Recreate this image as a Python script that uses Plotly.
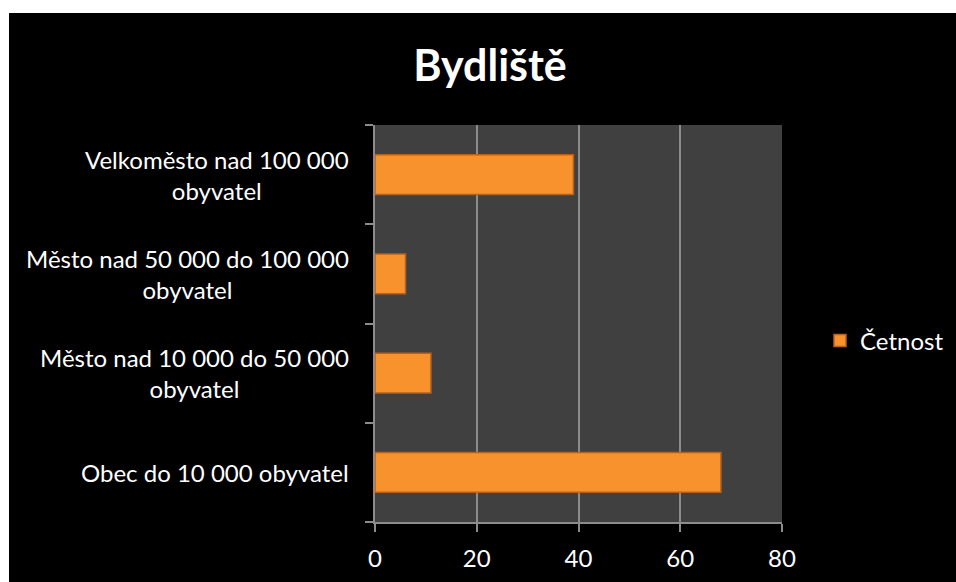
import plotly.graph_objects as go

categories = [
    "Obec do 10 000 obyvatel",
    "Město nad 10 000 do 50 000<br>obyvatel",
    "Město nad 50 000 do 100 000<br>obyvatel",
    "Velkoměsto nad 100 000<br>obyvatel",
]
values = [68, 11, 6, 39]
series_name = "Četnost"
x_ticks = [0, 20, 40, 60, 80]
title_text = "Bydliště"

FONT = "Lato, Carlito, Calibri, sans-serif"
positions = list(range(len(categories)))

W, H = 956, 582
L, R_PLOT, T, B_PLOT = 375, 782, 125, 522

fig = go.Figure()
fig.add_trace(go.Bar(
    x=values, y=positions, orientation="h", name=series_name,
    width=0.4,
    marker=dict(color="#F8922C", line=dict(color="#B8601A", width=1.5)),
    showlegend=True,
))

annotations = []
for pos, cat in zip(positions, categories):
    annotations.append(dict(
        x=0, xref="paper", y=pos, yref="y", text=cat, showarrow=False,
        xanchor="right", yanchor="middle", align="center", xshift=-24,
        font=dict(family=FONT, size=24, color="white"),
    ))

boundaries = [p - 0.5 for p in positions] + [positions[-1] + 0.5]
PW, PH = R_PLOT - L, B_PLOT - T

fig.update_layout(
    width=W, height=H,
    margin=dict(l=L, r=W - R_PLOT, t=T, b=H - B_PLOT),
    paper_bgcolor="black",
    plot_bgcolor="#404040",
    font=dict(family=FONT, size=24, color="white"),
    title=dict(text="<b>" + title_text + "</b>", x=490 / W, xanchor="center",
               y=1 - 66 / H, yanchor="middle", yref="container",
               font=dict(family=FONT, size=43, color="white")),
    xaxis=dict(range=[0, 80], tickvals=x_ticks,
               showgrid=True, gridcolor="#8C8C8C",
               gridwidth=2, showline=True, linecolor="#8C8C8C", linewidth=2,
               ticks="outside", ticklen=8, tickwidth=2, tickcolor="#8C8C8C",
               ticklabelstandoff=6, automargin=False,
               tickfont=dict(family=FONT, size=24, color="white"), zeroline=False,
               fixedrange=True),
    yaxis=dict(range=[-0.5, len(categories) - 0.5], tickvals=boundaries,
               showticklabels=False, showgrid=False, zeroline=False,
               showline=True, linecolor="#8C8C8C", linewidth=2,
               ticks="outside", ticklen=8, tickwidth=2, tickcolor="#8C8C8C",
               automargin=False, fixedrange=True),
    legend=dict(xref="container", yref="container", x=820 / W, xanchor="left",
                y=1 - 341 / H, yanchor="middle",
                font=dict(family=FONT, size=24, color="white"), bgcolor="rgba(0,0,0,0)"),
    annotations=annotations,
    shapes=[
        dict(type="rect", xref="paper", yref="paper", x0=-2, x1=2,
             y0=(B_PLOT - 13) / PH, y1=2, fillcolor="white", line=dict(width=0), layer="above"),
        dict(type="rect", xref="paper", yref="paper", x0=-2, x1=(9 - L) / PW,
             y0=-1, y1=2, fillcolor="white", line=dict(width=0), layer="above"),
    ],
    bargap=0.6,
)

fig.write_html("out.html")
